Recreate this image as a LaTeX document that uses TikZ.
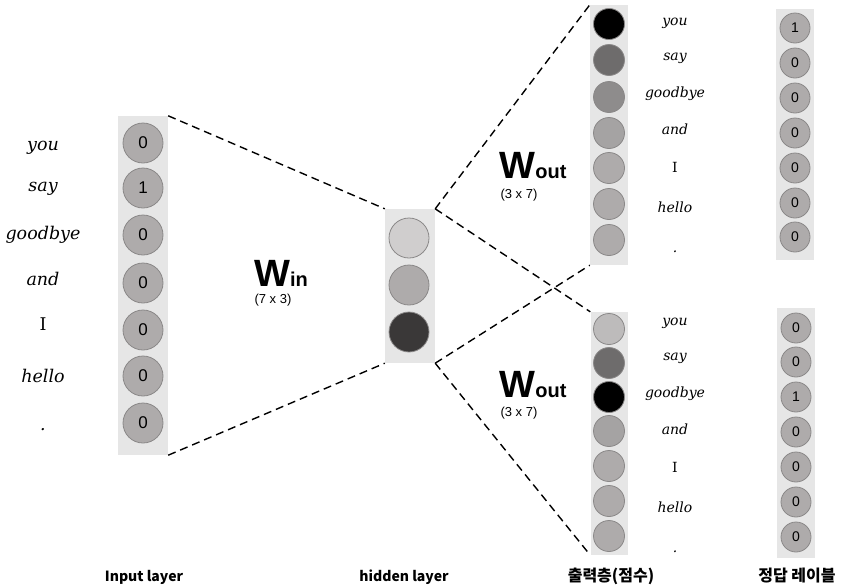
\documentclass[tikz,border=0pt]{standalone}
\usepackage{fontspec}
\setmainfont{DejaVu Serif}
\setsansfont{Liberation Sans}
\newfontfamily\krfont{Noto Sans CJK KR}
\usepackage{xcolor}
\usetikzlibrary{positioning, calc}

\definecolor{panelgray}{HTML}{E6E6E6}
\definecolor{rimgray}{HTML}{8A8888}
\definecolor{unitgray}{HTML}{AEABAB}
\definecolor{hidlight}{HTML}{D0CECE}
\definecolor{hiddark}{HTML}{3A3838}
\definecolor{scoreA}{HTML}{6E6C6C}
\definecolor{scoreB}{HTML}{8E8C8C}
\definecolor{scoreC}{HTML}{A5A3A3}
\definecolor{scoreD}{HTML}{BDBBBB}

\begin{document}
\begin{tikzpicture}[x=1pt, y=-1pt,
    panel/.style={fill=panelgray, draw=none, inner sep=0pt},
    unit/.style={circle, draw=rimgray, line width=0.8pt, inner sep=0pt, minimum size=#1},
    bigword/.style={font=\fontsize{17.5}{17.5}\selectfont\itshape, anchor=base},
    word/.style={font=\fontsize{14}{14}\selectfont\itshape, anchor=base},
    weight/.style={dashed, dash pattern=on 8pt off 5pt, line width=1.4pt},
    wlabel/.style={font=\sffamily\bfseries, anchor=base, inner sep=0pt},
    dimlabel/.style={font=\sffamily\fontsize{13}{13}\selectfont, inner sep=0pt},
    layername/.style={font=\krfont\bfseries\fontsize{14}{14}\selectfont},
    krname/.style={font=\krfont\bfseries\fontsize{16}{16}\selectfont}]
\useasboundingbox (0,0) rectangle (860,587);

% Panels
\node[panel, minimum width=50pt, minimum height=339pt] (inpanel) at (143,285.5) {};
\node[panel, minimum width=50pt, minimum height=154pt] (hidpanel) at (410,286) {};
\node[panel, minimum width=38pt, minimum height=260pt] (outapanel) at (609,135) {};
\node[panel, minimum width=37pt, minimum height=243pt] (outbpanel) at (609,433.5) {};
\node[panel, minimum width=38pt, minimum height=251pt] (lblapanel) at (795,134.5) {};
\node[panel, minimum width=38pt, minimum height=250pt] (lblbpanel) at (796,433) {};

% Input layer (one-hot)
\foreach \y/\v [count=\i] in {143/0, 188/1, 235/0, 283/0, 330/0, 376/0, 423/0} {
    \node[unit=40pt, fill=unitgray, font=\sffamily\fontsize{17}{17}\selectfont] (in\i) at (143,\y) {\v};
}
\foreach \y/\w [count=\i] in {150/you, 191/say, 239/goodbye, 285/and, 330/\textup{I}, 382/hello, 430/.} {
    \node[bigword] (inw\i) at (43,\y) {\w};
}

% Hidden layer
\foreach \y/\c [count=\i] in {238/hidlight, 285/unitgray, 332/hiddark} {
    \node[unit=40pt, fill=\c] (hid\i) at (409,\y) {};
}

% Output layer (scores)
\foreach \y/\c [count=\i] in {24/black, 60/scoreA, 97/scoreB, 133/scoreC, 168/unitgray, 204/unitgray, 240/unitgray} {
    \node[unit=31pt, fill=\c] (outa\i) at (609,\y) {};
}
\foreach \y/\c [count=\i] in {329/scoreD, 363/scoreA, 397/black, 431/scoreC, 466/unitgray, 501/unitgray, 536/unitgray} {
    \node[unit=31pt, fill=\c] (outb\i) at (609,\y) {};
}
\foreach \y/\w [count=\i] in {25/you, 60/say, 97/goodbye, 134/and, 172/\textup{I}, 212/hello, 252/.} {
    \node[word] (outaw\i) at (675,\y) {\w};
}
\foreach \y/\w [count=\i] in {325/you, 360/say, 397/goodbye, 434/and, 472/\textup{I}, 512/hello, 552/.} {
    \node[word] (outbw\i) at (675,\y) {\w};
}

% Answer labels
\foreach \y/\v [count=\i] in {28/1, 63/0, 98/0, 133/0, 168/0, 203/0, 237/0} {
    \node[unit=30pt, fill=unitgray, font=\sffamily\fontsize{14}{14}\selectfont] (lbla\i) at (795,\y) {\v};
}
\foreach \y/\v [count=\i] in {328/0, 362/0, 397/1, 432/0, 467/0, 502/0, 537/0} {
    \node[unit=30pt, fill=unitgray, font=\sffamily\fontsize{14}{14}\selectfont] (lblb\i) at (796,\y) {\v};
}

% Weights
\draw[weight] (inpanel.north east) -- (hidpanel.north west);
\draw[weight] (inpanel.south east) -- (hidpanel.south west);
\draw[weight] (hidpanel.north east) -- (outapanel.north west);
\draw[weight] (hidpanel.north east) -- (outbpanel.north west);
\draw[weight] (hidpanel.south east) -- (outapanel.south west);
\draw[weight] (hidpanel.south east) -- (outbpanel.south west);

\node[wlabel] (win) at (281,286) {{\fontsize{38}{38}\selectfont W}{\fontsize{20}{20}\selectfont in}};
\node[dimlabel] (windim) at (273,300) {(7 x 3)};
\node[wlabel] (wouta) at (533,178) {{\fontsize{38}{38}\selectfont W}{\fontsize{20}{20}\selectfont out}};
\node[dimlabel] (woutadim) at (519,195) {(3 x 7)};
\node[wlabel] (woutb) at (533,397) {{\fontsize{38}{38}\selectfont W}{\fontsize{20}{20}\selectfont out}};
\node[dimlabel] (woutbdim) at (519,413) {(3 x 7)};

% Layer names
\node[layername] (inname) at (144,577) {Input layer};
\node[layername] (hidname) at (404,577) {hidden layer};
\node[krname] (outname) at (611,576) {출력층(점수)};
\node[krname] (lblname) at (797,576) {정답 레이블};
\end{tikzpicture}
\end{document}
